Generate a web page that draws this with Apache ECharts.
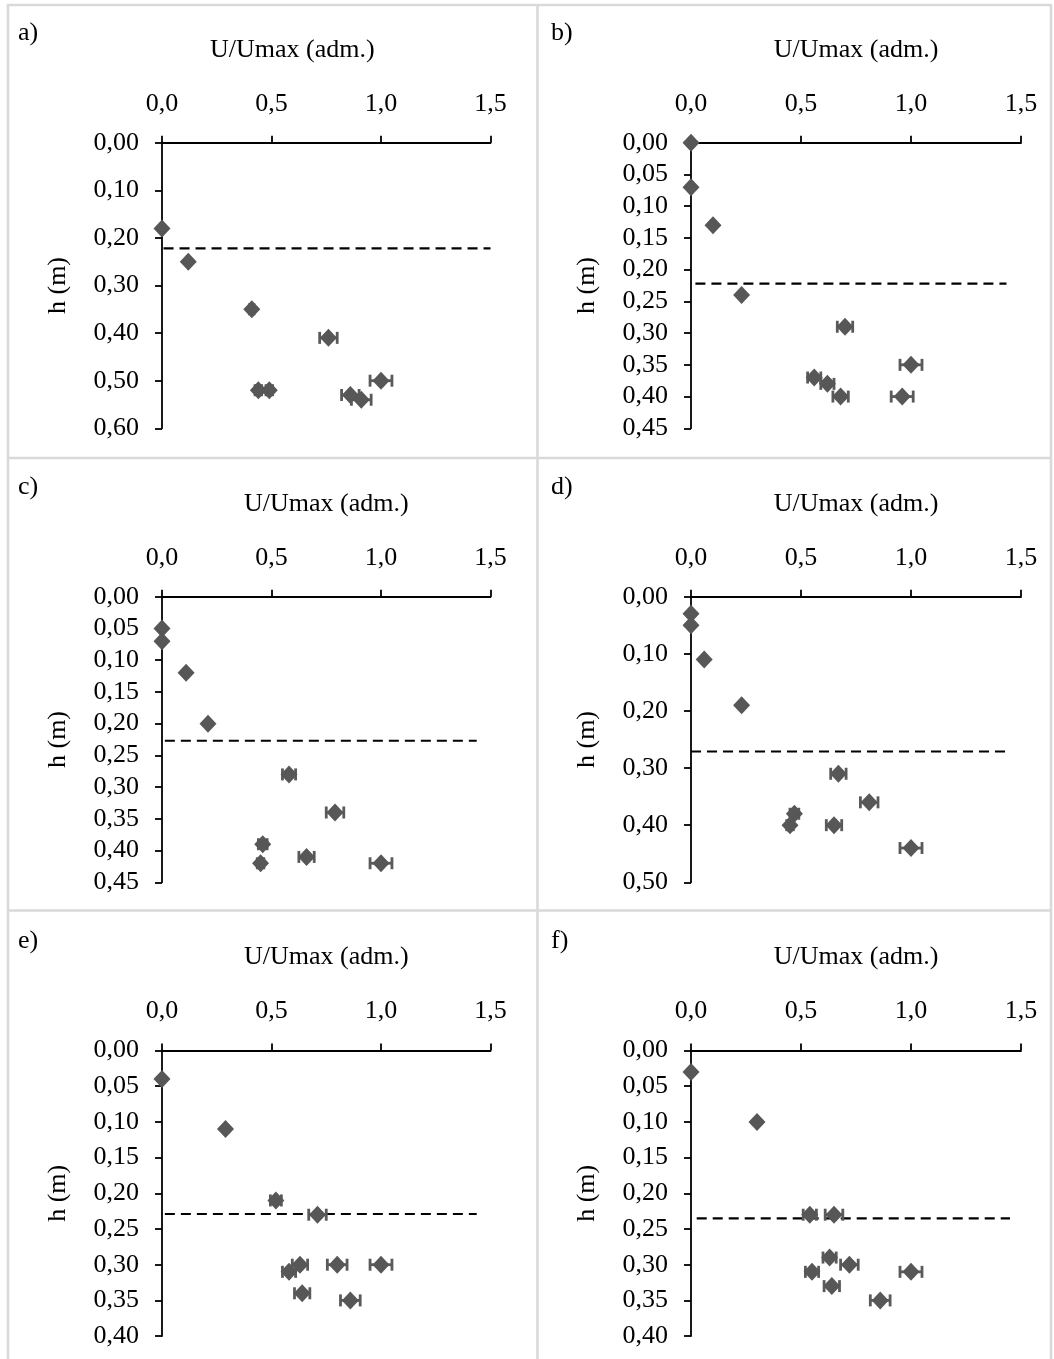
<!DOCTYPE html>
<html>
<head>
<meta charset="utf-8">
<script src="https://cdn.jsdelivr.net/npm/echarts@6/dist/echarts.min.js"></script>
<style>
html,body{margin:0;padding:0;background:#fff;}
#c{width:1054px;height:1359px;}
</style>
</head>
<body>
<div id="c"></div>
<script>
// ---- data ----
const panelLabels = ['a)', 'b)', 'c)', 'd)', 'e)', 'f)'];
const xTitle = 'U/Umax (adm.)';
const yTitle = 'h (m)';

const aX   = [0.00, 0.12, 0.41, 0.76, 0.44, 0.49, 1.00, 0.86, 0.91];
const aY   = [0.18, 0.25, 0.35, 0.41, 0.52, 0.52, 0.50, 0.53, 0.54];
const aErr = [0.00, 0.00, 0.01, 0.04, 0.015, 0.015, 0.05, 0.04, 0.045];

const bX   = [0.00, 0.00, 0.10, 0.23, 0.70, 1.00, 0.56, 0.62, 0.68, 0.96];
const bY   = [0.00, 0.07, 0.13, 0.24, 0.29, 0.35, 0.37, 0.38, 0.40, 0.40];
const bErr = [0.00, 0.00, 0.00, 0.00, 0.035, 0.05, 0.03, 0.03, 0.035, 0.05];

const cX   = [0.00, 0.00, 0.11, 0.21, 0.58, 0.79, 0.46, 0.45, 0.66, 1.00];
const cY   = [0.05, 0.07, 0.12, 0.20, 0.28, 0.34, 0.39, 0.42, 0.41, 0.42];
const cErr = [0.00, 0.00, 0.00, 0.00, 0.03, 0.04, 0.02, 0.015, 0.035, 0.05];

const dX   = [0.00, 0.00, 0.06, 0.23, 0.67, 0.81, 0.47, 0.45, 0.65, 1.00];
const dY   = [0.03, 0.05, 0.11, 0.19, 0.31, 0.36, 0.38, 0.40, 0.40, 0.44];
const dErr = [0.00, 0.00, 0.00, 0.00, 0.035, 0.04, 0.02, 0.015, 0.035, 0.05];

const eX   = [0.00, 0.29, 0.52, 0.71, 0.63, 0.80, 1.00, 0.58, 0.64, 0.86];
const eY   = [0.04, 0.11, 0.21, 0.23, 0.30, 0.30, 0.30, 0.31, 0.34, 0.35];
const eErr = [0.00, 0.00, 0.025, 0.04, 0.035, 0.045, 0.05, 0.03, 0.035, 0.045];

const fX   = [0.00, 0.30, 0.54, 0.65, 0.63, 0.72, 0.55, 1.00, 0.64, 0.86];
const fY   = [0.03, 0.10, 0.23, 0.23, 0.29, 0.30, 0.31, 0.31, 0.33, 0.35];
const fErr = [0.00, 0.00, 0.03, 0.04, 0.03, 0.04, 0.03, 0.05, 0.035, 0.045];

// dashed reference depth (h) and its horizontal extent (in U/Umax units)
const dashH     = [0.222, 0.222, 0.227, 0.271, 0.229, 0.235];
const dashFromX = [-0.066, 0.02, -0.06, 0.0, -0.06, 0.026];
const dashToX   = [1.5, 1.434, 1.437, 1.445, 1.437, 1.45];

// axis ranges / intervals
const xMin = 0, xMax = 1.5, xStep = 0.5;
const yMaxs  = [0.60, 0.45, 0.45, 0.50, 0.40, 0.40];
const ySteps = [0.10, 0.05, 0.05, 0.10, 0.05, 0.05];

// ---- layout / styles ----
const FONT = 'Liberation Serif';
const FS = 26;
const MARK = '#575757';
const allX = [aX, bX, cX, dX, eX, fX];
const allY = [aY, bY, cY, dY, eY, fY];
const allE = [aErr, bErr, cErr, dErr, eErr, fErr];

const colLeft = [162, 691];
const colWidth = [328.5, 330];
const rowTop = [142.7, 596.7, 1050.5];
const rowH = 285.6;
const labelPos = [[18, 20], [551, 20], [18, 474], [551, 474], [18, 928], [551, 928]];
const xNameShift = [68, 0, 0, 0, 0, 0];

const grids = [], xAxes = [], yAxes = [], series = [], titles = [];
for (let i = 0; i < 6; i++) {
  const col = i % 2, row = Math.floor(i / 2);
  grids.push({left: colLeft[col], top: rowTop[row], width: colWidth[col], height: rowH, containLabel: false});
  xAxes.push({
    gridIndex: i, type: 'value', position: 'top', min: xMin, max: xMax, interval: xStep,
    name: xTitle, nameLocation: 'middle', nameGap: 80,
    nameTextStyle: {fontFamily: FONT, fontSize: FS, color: '#000', padding: [0, xNameShift[i], 0, 0]},
    axisLine: {show: true, onZero: false, lineStyle: {color: '#000', width: 1.8}},
    axisTick: {show: true, inside: false, length: 7, lineStyle: {color: '#000', width: 1.8}},
    axisLabel: {margin: 26, fontFamily: FONT, fontSize: FS, color: '#000',
      formatter: v => v.toFixed(1).replace('.', ',')},
    splitLine: {show: false}
  });
  yAxes.push({
    gridIndex: i, type: 'value', inverse: true, min: 0, max: yMaxs[i], interval: ySteps[i],
    name: yTitle, nameLocation: 'middle', nameGap: 91,
    nameTextStyle: {fontFamily: FONT, fontSize: FS, color: '#000'},
    axisLine: {show: true, onZero: false, lineStyle: {color: '#000', width: 1.8}},
    axisTick: {show: true, inside: false, length: 7, lineStyle: {color: '#000', width: 1.8}},
    axisLabel: {margin: 23, fontFamily: FONT, fontSize: FS, color: '#000',
      formatter: v => v.toFixed(2).replace('.', ',')},
    splitLine: {show: false}
  });
  titles.push({text: panelLabels[i], left: labelPos[i][0], top: labelPos[i][1], padding: 0,
    textStyle: {fontFamily: FONT, fontSize: FS, fontWeight: 'normal', color: '#000'}});

  // dashed reference line
  series.push({
    type: 'line', xAxisIndex: i, yAxisIndex: i, clip: false, silent: true,
    symbol: 'none', z: 1,
    data: [[dashFromX[i], dashH[i]], [dashToX[i], dashH[i]]],
    lineStyle: {color: '#000', width: 2.2, type: [10, 6]}
  });
  // horizontal error bars
  series.push({
    type: 'custom', xAxisIndex: i, yAxisIndex: i, z: 2, silent: true,
    encode: {x: 0, y: 1},
    data: allX[i].map((v, j) => [v, allY[i][j], allE[i][j]]),
    renderItem: function (params, api) {
      const xv = api.value(0), yv = api.value(1), e = api.value(2);
      if (!e) return null;
      const p1 = api.coord([xv - e, yv]);
      const p2 = api.coord([xv + e, yv]);
      const cap = 6;
      const st = {stroke: '#5a5a5a', lineWidth: 2.8};
      return {type: 'group', children: [
        {type: 'line', shape: {x1: p1[0], y1: p1[1], x2: p2[0], y2: p2[1]}, style: st},
        {type: 'line', shape: {x1: p1[0], y1: p1[1] - cap, x2: p1[0], y2: p1[1] + cap}, style: st},
        {type: 'line', shape: {x1: p2[0], y1: p2[1] - cap, x2: p2[0], y2: p2[1] + cap}, style: st}
      ]};
    }
  });
  // markers
  series.push({
    type: 'scatter', xAxisIndex: i, yAxisIndex: i, z: 3, clip: false,
    symbol: 'diamond', symbolSize: [17, 18],
    itemStyle: {color: MARK, opacity: 1},
    data: allX[i].map((v, j) => [v, allY[i][j]])
  });
}

// panel frame lines (light grey)
const frameStyle = {stroke: '#d9d9d9', lineWidth: 2.6, fill: null};
const graphics = [
  {type: 'rect', shape: {x: 8, y: 5, width: 1043, height: 1362}, style: frameStyle, silent: true},
  {type: 'line', shape: {x1: 537.5, y1: 5, x2: 537.5, y2: 1367}, style: frameStyle, silent: true},
  {type: 'line', shape: {x1: 8, y1: 458, x2: 1051, y2: 458}, style: frameStyle, silent: true},
  {type: 'line', shape: {x1: 8, y1: 910.5, x2: 1051, y2: 910.5}, style: frameStyle, silent: true}
];

const chart = echarts.init(document.getElementById('c'), null, {renderer: 'canvas'});
chart.setOption({
  animation: false,
  backgroundColor: '#fff',
  title: titles,
  grid: grids,
  xAxis: xAxes,
  yAxis: yAxes,
  series: series,
  graphic: graphics
});
</script>
</body>
</html>
